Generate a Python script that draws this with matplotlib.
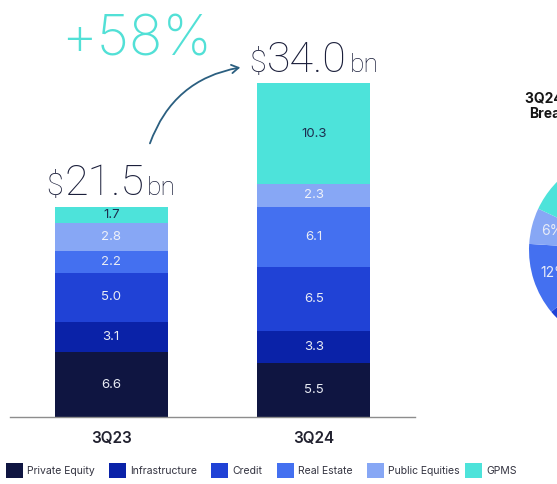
import matplotlib
matplotlib.use('Agg')
import matplotlib.pyplot as plt
from matplotlib.patches import Rectangle, FancyArrowPatch

# ---------------- data ----------------
periods = ['3Q23', '3Q24']
segments = ['Private Equity', 'Infrastructure', 'Credit', 'Real Estate',
            'Public Equities', 'GPMS']
values_3q23 = [6.6, 3.1, 5.0, 2.2, 2.8, 1.7]
values_3q24 = [5.5, 3.3, 6.5, 6.1, 2.3, 10.3]
totals = [21.5, 34.0]
growth_label = '+58%'
pie_shares = [32, 12, 20, 12, 6, 18]   # percent (only partly visible)
pie_title_1 = '3Q24 Inflows'
pie_title_2 = 'Breakdown'

# ---------------- style ----------------
colors = ['#0f1541', '#0a22a8', '#2042d6', '#4470f0', '#87a7f5', '#4de3da']
label_colors = ['#e8ebf4', '#e8ebf4', '#e8ebf4', '#e8ebf4', '#eef1fa', '#1d2d4f']
dark = '#1b1f3b'
big_font = ['Roboto', 'DejaVu Sans']

plt.rcParams['font.family'] = ['Inter', 'DejaVu Sans']

W, H = 557, 484
fig = plt.figure(figsize=(W / 100, H / 100), dpi=100)


def px(x, y):
    """pixel (from top-left) -> figure fraction"""
    return x / W, (H - y) / H


ax = fig.add_axes([10 / W, (H - 417) / H, 405 / W, 393 / H])
series = [values_3q23, values_3q24]
xpos = list(range(len(periods)))
bar_w = 0.56
for p, vals in enumerate(series):
    bottom = 0.0
    for s, v in enumerate(vals):
        ax.bar(xpos[p], v, bottom=bottom, width=bar_w, color=colors[s], linewidth=0)
        ax.text(xpos[p], bottom + v / 2, f'{v:.1f}', ha='center', va='center',
                fontsize=9.5, color=label_colors[s] if not (p == 0 and s == 5) else '#1d2d4f')
        bottom += v

ax.set_xlim(-0.5, 1.5)
ax.set_ylim(0, 40)
ax.set_yticks([])
ax.set_xticks(xpos, periods)
ax.tick_params(axis='x', length=0, pad=10, labelsize=11, labelcolor='#222230')
for lab in ax.get_xticklabels():
    lab.set_fontweight('semibold')
for sp in ['top', 'left', 'right']:
    ax.spines[sp].set_visible(False)
ax.spines['bottom'].set_color('#8d8d8d')
ax.spines['bottom'].set_linewidth(1.0)

# total labels: "$" + number + "bn"
groups = []
for p, tot in enumerate(totals):
    kw = dict(textcoords='offset points', ha='left', va='baseline', color=dark,
              fontweight='light', family=big_font)
    t1 = ax.annotate('$', (xpos[p], tot), xytext=(0, 8), fontsize=22, **kw)
    t2 = ax.annotate(f'{tot:.1f}', (xpos[p], tot), xytext=(0, 8), fontsize=31, **kw)
    t3 = ax.annotate('bn', (xpos[p], tot), xytext=(0, 8), fontsize=19, **kw)
    groups.append((t1, t2, t3))

fig.canvas.draw()
r = fig.canvas.get_renderer()
for t1, t2, t3 in groups:
    ws = [t.get_window_extent(r).width for t in (t1, t2, t3)]
    gap1, gap2 = 1.0, 3.0
    total_w = sum(ws) + gap1 + gap2
    x0 = -total_w / 2
    k = 72 / 100
    t1.xyann = (x0 * k, 8)
    t2.xyann = ((x0 + ws[0] + gap1) * k, 8)
    t3.xyann = ((x0 + ws[0] + ws[1] + gap1 + gap2) * k, 8)

# growth label and arrow
gx, gy = px(137, 55)
fig.text(gx, gy, growth_label, ha='center', va='baseline', fontsize=40,
         color='#52e0d6', fontweight='light')
arrow = FancyArrowPatch(px(149, 146), px(243, 67), transform=fig.transFigure,
                        connectionstyle='arc3,rad=-0.3', arrowstyle='->,head_length=5,head_width=3',
                        color='#2b5f80', lw=1.3)
fig.add_artist(arrow)

# pie (cut off at right edge)
ax2 = fig.add_axes([529 / W, (H - 347) / H, 194 / W, 194 / H])
wedges, texts, autotexts = ax2.pie(pie_shares, colors=colors, startangle=90,
                                   counterclock=False, autopct='%d%%', pctdistance=0.78,
                                   wedgeprops=dict(linewidth=0),
                                   textprops=dict(color='#e8ecf8', fontsize=10))
ax2.set_xlim(-1, 1)
ax2.set_ylim(-1, 1)
ax2.set_aspect('equal')
tx, ty = px(525, 103)
fig.text(tx, ty, pie_title_1, ha='left', va='baseline', fontsize=10,
         fontweight='bold', color='#151515')
tx, ty = px(529, 118)
fig.text(tx, ty, pie_title_2, ha='left', va='baseline', fontsize=10,
         fontweight='bold', color='#151515')

# legend (manual)
sq_x = [6, 109, 211, 277, 367, 465]
for i, name in enumerate(segments):
    x0, y0 = px(sq_x[i], 478)
    fig.add_artist(Rectangle((x0, y0), 17 / W, 15 / H, transform=fig.transFigure,
                             facecolor=colors[i], edgecolor='none'))
    lx, ly = px(sq_x[i] + 21, 471)
    fig.text(lx, ly, name, ha='left', va='center', fontsize=7.5, color='#333340')

fig.savefig('out.png', dpi=100)
